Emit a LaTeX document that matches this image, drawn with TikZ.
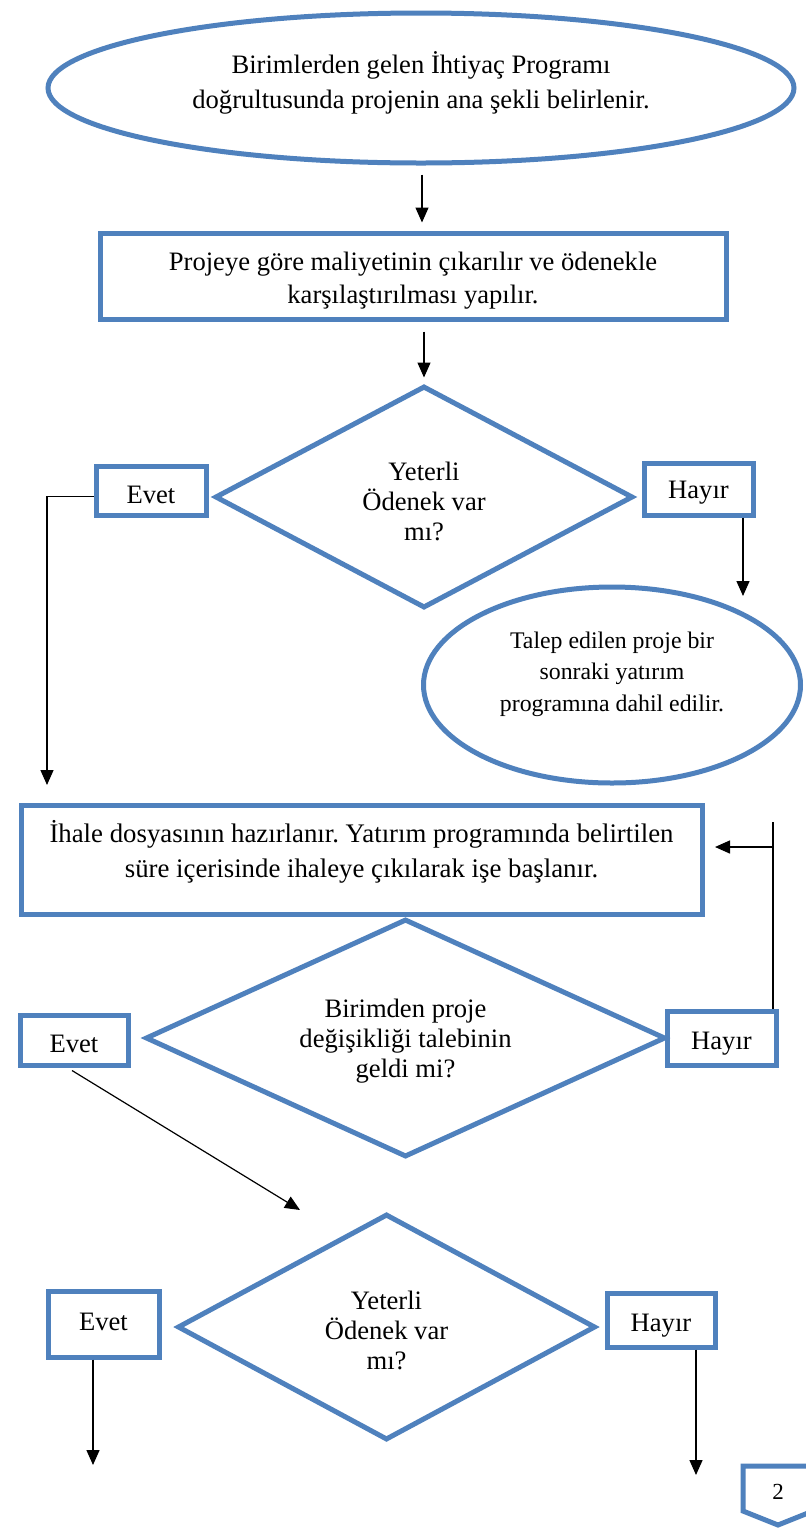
\documentclass[tikz,border=0pt]{standalone}
\usepackage{fontspec}
\setmainfont{Liberation Serif}
\usetikzlibrary{shapes.geometric,arrows.meta,calc}
\definecolor{fblue}{HTML}{4F81BD}
\frenchspacing
\begin{document}
\begin{tikzpicture}[x=1pt,y=-1pt,
  shp/.style={draw=fblue, line width=5pt, align=center, text=black, font=\fontsize{26.6}{33}\selectfont},
  ell/.style={shp, ellipse, inner sep=0pt},
  box/.style={shp, rectangle},
  dia/.style={shp, diamond, aspect=2, inner sep=0pt, font=\fontsize{26.6}{30}\selectfont},
  arr/.style={-{Triangle[length=15pt,width=13pt]}, line width=1.4pt},
  ln/.style={line width=1.4pt}]
\useasboundingbox (0,0) rectangle (806,1535);
\fill[white] (0,0) rectangle (806,1535);

\node[ell, minimum width=746, minimum height=150, text depth=15pt, font=\fontsize{26.6}{35}\selectfont] (e1) at (421,88)
  {Birimlerden gelen İhtiyaç Programı\\doğrultusunda projenin ana şekli belirlenir.};
\node[box, minimum width=626, minimum height=86, text height=61pt] (b1) at (413,276)
  {Projeye göre maliyetinin çıkarılır ve ödenekle\\karşılaştırılması yapılır.};
\node[dia, minimum width=418, minimum height=222, text height=88pt] (d1) at (424,497) {Yeterli\\Ödenek var\\mı?};
\node[box, minimum width=110, minimum height=49, text height=25pt, text depth=0pt] (ev1) at (151,490.5) {Evet};
\node[box, minimum width=109, minimum height=52, text height=24pt, text depth=6pt] (h1) at (698.5,489) {Hayır};
\node[ell, minimum width=377, minimum height=196, text depth=27pt, font=\fontsize{23.8}{31.5}\selectfont] (e2) at (612,685)
  {Talep edilen proje bir\\sonraki yatırım\\programına dahil edilir.};
\node[box, minimum width=681, minimum height=109, text depth=21pt, font=\fontsize{26.8}{35}\selectfont] (b2) at (361.5,859.5)
  {İhale dosyasının hazırlanır. Yatırım programında belirtilen\\süre içerisinde ihaleye çıkılarak işe başlanır.};
\node[dia, minimum width=520, minimum height=238, text height=84pt] (d2) at (405.5,1038) {Birimden proje\\değişikliği talebinin\\geldi mi?};
\node[box, minimum width=108, minimum height=50, text height=24pt, text depth=0pt] (ev2) at (74,1040) {Evet};
\node[box, minimum width=109, minimum height=54, text height=28pt, text depth=6pt] (h2) at (721.5,1038) {Hayır};
\node[dia, minimum width=418, minimum height=226, text height=86pt] (d3) at (386.5,1327) {Yeterli\\Ödenek var\\mı?};
\node[box, minimum width=111, minimum height=66, text height=12pt, text depth=0pt] (ev3) at (103.5,1324) {Evet};
\node[box, minimum width=108, minimum height=54, text height=29pt, text depth=6pt] (h3) at (661,1320) {Hayır};

% off-page connector
\draw[draw=fblue, line width=5pt, fill=white] (743,1466) -- (813,1466) -- (813,1511) -- (778,1525) -- (743,1511) -- cycle;
\node[font=\fontsize{23}{28}\selectfont, inner sep=0pt] (p2) at (778,1492) {2};

% connectors
\coordinate (c1) at (47,785);
\coordinate (c2) at (743,596);
\coordinate (c3) at (715,847);
\coordinate (k1) at (773,822);
\coordinate (c4) at (300,1210);
\coordinate (c5) at (93,1465);
\coordinate (c6) at (696,1475);

\draw[arr] ($(e1.south)+(1,9)$) -- ($(e1.south |- b1.north)+(1,-8)$);
\draw[arr] ($(d1.north |- b1.south)+(0,10)$) -- ($(d1.north)+(0,-6)$);
\draw[arr] ($(ev1.west)+(0,6)$) -| (c1);
\draw[arr] (h1.south -| c2) -- (c2);
\draw[ln] (h2.north -| k1) -- (k1);
\draw[arr] (k1 |- c3) -- (c3);
\draw[arr, line width=1.2pt] ($(ev2.south)+(-2,3)$) -- (c4);
\draw[arr] (ev3.south -| c5) -- (c5);
\draw[arr] (h3.south -| c6) -- (c6);
\end{tikzpicture}
\end{document}
